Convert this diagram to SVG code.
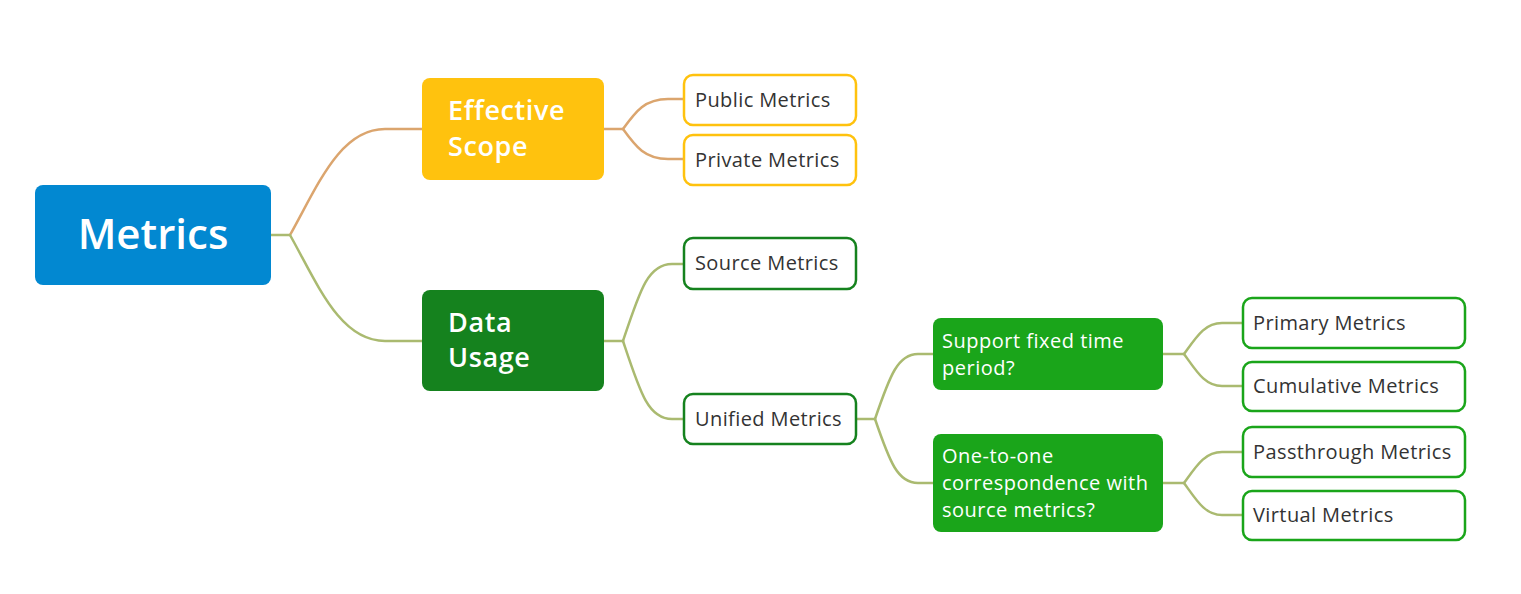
<svg xmlns="http://www.w3.org/2000/svg" width="1521" height="594" viewBox="0 0 1521 594">
<style>
  .t { font-family: "Open Sans", "Liberation Sans", sans-serif; }
  .white { fill: #ffffff; }
  .bold { font-weight: 600; }
  .leaf { fill: #ffffff; stroke-width: 2.5; }
  .leaf-text { font-family: "Open Sans", "Liberation Sans", sans-serif; font-size: 20px; letter-spacing: 0.4px; fill: #333333; }
  .q-text { font-family: "Open Sans", "Liberation Sans", sans-serif; font-size: 20px; letter-spacing: 0.5px; fill: #ffffff; }
  .c { fill: none; stroke-width: 2.5; stroke-linecap: round; }
  .orange { stroke: #DBA56E; }
  .olive { stroke: #AABA70; }
</style>
<rect width="1521" height="594" fill="#ffffff"/>
<g id="connectors">
  <path class="c olive" d="M271 235 L290 235"/>
  <path class="c orange" d="M290 235 C318 185 340 129 385 129 L422 129"/>
  <path class="c olive" d="M290 235 C318 285 340 341 385 341 L422 341"/>
  <path class="c orange" d="M604 129 L623 129"/>
  <path class="c orange" d="M623 129 C636 111 645 99 668 99 L684 99"/>
  <path class="c orange" d="M623 129 C636 147 645 159 668 159 L684 159"/>
  <path class="c olive" d="M604 341 L623 341"/>
  <path class="c olive" d="M623 341 C640 290 648 264 672 264 L684 264"/>
  <path class="c olive" d="M623 341 C640 392 648 419 672 419 L684 419"/>
  <path class="c olive" d="M856 419 L875 419"/>
  <path class="c olive" d="M875 419 C890 375 898 354 918 354 L933 354"/>
  <path class="c olive" d="M875 419 C890 463 898 483 918 483 L933 483"/>
  <path class="c olive" d="M1163 354 L1184 354"/>
  <path class="c olive" d="M1184 354 C1197 336 1205 323 1222 323 L1243 323"/>
  <path class="c olive" d="M1184 354 C1197 372 1205 386 1222 386 L1243 386"/>
  <path class="c olive" d="M1163 483 L1184 483"/>
  <path class="c olive" d="M1184 483 C1197 465 1205 452 1222 452 L1243 452"/>
  <path class="c olive" d="M1184 483 C1197 501 1205 515 1222 515 L1243 515"/>
</g>
<g id="metrics">
  <rect x="35" y="185" width="236" height="100" rx="8" fill="#0288D1"/>
  <text class="t white bold" x="153" y="249" font-size="42" text-anchor="middle">Metrics</text>
</g>
<g id="effective-scope">
  <rect x="422" y="78" width="182" height="102" rx="8" fill="#FFC20E"/>
  <text class="t white bold" font-size="27" letter-spacing="0.6"><tspan x="448" y="120">Effective</tspan><tspan x="448" y="156">Scope</tspan></text>
</g>
<g id="data-usage">
  <rect x="422" y="290" width="182" height="101" rx="8" fill="#15821E"/>
  <text class="t white bold" font-size="27" letter-spacing="0.6"><tspan x="448" y="332">Data</tspan><tspan x="448" y="367">Usage</tspan></text>
</g>
<g id="public-metrics">
  <rect class="leaf" x="684" y="75" width="172" height="50" rx="9" stroke="#FFC20E"/>
  <text class="leaf-text" x="695" y="107">Public Metrics</text>
</g>
<g id="private-metrics">
  <rect class="leaf" x="684" y="135" width="172" height="50" rx="9" stroke="#FFC20E"/>
  <text class="leaf-text" x="695" y="167">Private Metrics</text>
</g>
<g id="source-metrics">
  <rect class="leaf" x="684" y="238" width="172" height="51" rx="9" stroke="#15821E"/>
  <text class="leaf-text" x="695" y="270">Source Metrics</text>
</g>
<g id="unified-metrics">
  <rect class="leaf" x="684" y="394" width="172" height="50" rx="9" stroke="#15821E"/>
  <text class="leaf-text" x="695" y="426">Unified Metrics</text>
</g>
<g id="support-fixed-time">
  <rect x="933" y="318" width="230" height="72" rx="8" fill="#1AA51A"/>
  <text class="q-text"><tspan x="942" y="348">Support fixed time</tspan><tspan x="942" y="375">period?</tspan></text>
</g>
<g id="one-to-one">
  <rect x="933" y="434" width="230" height="98" rx="8" fill="#1AA51A"/>
  <text class="q-text"><tspan x="942" y="463">One-to-one</tspan><tspan x="942" y="490">correspondence with</tspan><tspan x="942" y="517">source metrics?</tspan></text>
</g>
<g id="primary-metrics">
  <rect class="leaf" x="1243" y="298" width="222" height="50" rx="9" stroke="#1AA51A"/>
  <text class="leaf-text" x="1253" y="330">Primary Metrics</text>
</g>
<g id="cumulative-metrics">
  <rect class="leaf" x="1243" y="362" width="222" height="49" rx="9" stroke="#1AA51A"/>
  <text class="leaf-text" x="1253" y="393">Cumulative Metrics</text>
</g>
<g id="passthrough-metrics">
  <rect class="leaf" x="1243" y="427" width="222" height="50" rx="9" stroke="#1AA51A"/>
  <text class="leaf-text" x="1253" y="459">Passthrough Metrics</text>
</g>
<g id="virtual-metrics">
  <rect class="leaf" x="1243" y="491" width="222" height="49" rx="9" stroke="#1AA51A"/>
  <text class="leaf-text" x="1253" y="522">Virtual Metrics</text>
</g>
</svg>
